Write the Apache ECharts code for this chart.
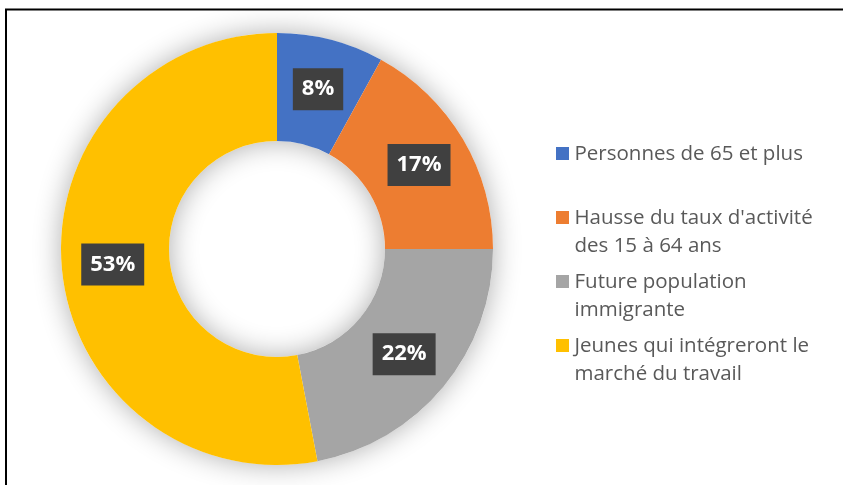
<!DOCTYPE html>
<html>
<head>
<meta charset="utf-8">
<script src="https://cdn.jsdelivr.net/npm/echarts@6/dist/echarts.min.js"></script>
<style>
  html, body { margin: 0; padding: 0; background: #fff; }
  #chart { width: 843px; height: 485px; }
</style>
</head>
<body>
<div id="chart"></div>
<script>
// donut data
const categories = [
  'Personnes de 65 et plus',
  "Hausse du taux d'activité des 15 à 64 ans",
  'Future population immigrante',
  'Jeunes qui intégreront le marché du travail'
];
const values = [8, 17, 22, 53];
// legend text as it wraps in the picture
const legendLines = [
  'Personnes de 65 et plus\n ',
  "Hausse du taux d'activité\ndes 15 à 64 ans",
  'Future population\nimmigrante',
  'Jeunes qui intégreront le\nmarché du travail'
];
const colors = ['#4472C4', '#ED7D31', '#A5A5A5', '#FFC000'];

const chart = echarts.init(document.getElementById('chart'));

chart.setOption({
  animation: false,
  color: colors,
  graphic: [{
    type: 'rect',
    shape: { x: 6, y: 9.5, width: 900, height: 600 },
    style: { fill: null, stroke: '#000', lineWidth: 2 },
    silent: true
  }],
  legend: {
    orient: 'vertical',
    left: 551,
    top: 135,
    itemWidth: 14,
    itemHeight: 56,
    itemGap: 8,
    // square on the first line of each two-line entry
    icon: 'path://M0,0M0,7h13v13h-13zM0,56',
    data: categories,
    formatter: name => legendLines[categories.indexOf(name)],
    textStyle: {
      fontFamily: 'Open Sans',
      fontSize: 20.5,
      lineHeight: 28,
      color: '#595959'
    }
  },
  series: [
    {
      // soft shadow behind the ring
      type: 'pie',
      silent: true,
      center: [277, 249],
      radius: [108, 216],
      label: { show: false },
      itemStyle: {
        color: '#fff',
        shadowBlur: 28,
        shadowColor: 'rgba(0,0,0,0.32)'
      },
      data: [{ name: '_bg', value: 1 }],
      z: 1
    },
    {
      type: 'pie',
      center: [277, 249],
      radius: [108, 216],
      startAngle: 90,
      clockwise: true,
      z: 2,
      label: {
        show: true,
        position: 'inside',
        formatter: p => p.value + '%',
        color: '#fff',
        fontFamily: 'Open Sans',
        fontWeight: 'bold',
        fontSize: 22,
        lineHeight: 22,
        backgroundColor: '#404040',
        padding: [10, 9]
      },
      labelLine: { show: false },
      emphasis: { disabled: true },
      data: categories.map((c, i) => ({ name: c, value: values[i] }))
    }
  ]
});
</script>
</body>
</html>
